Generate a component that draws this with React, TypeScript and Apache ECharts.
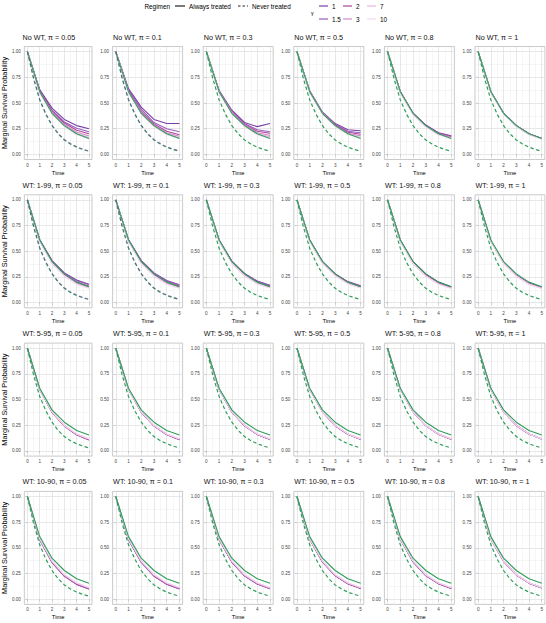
import React, { useEffect, useRef } from 'react';
import * as echarts from 'echarts';

const FONT = "'Liberation Sans', Arial, Helvetica, sans-serif";

const times = [0, 1, 2, 3, 4, 5];
const neverTimes = [0, 0.5, 1, 1.5, 2, 2.5, 3, 3.5, 4, 4.5, 5];
const trueAlways = [1, 0.61, 0.4, 0.28, 0.2, 0.155];
const trueNever = [1, 0.74, 0.53, 0.39, 0.28, 0.2, 0.14, 0.1, 0.07, 0.048, 0.03];
// estimated "Never treated" curve where it departs from the truth (No WT / WT 1-99, small pi)
const estNeverLowPi = [1, 0.745, 0.535, 0.395, 0.285, 0.205, 0.145, 0.105, 0.075, 0.052, 0.034];

const gammaLabels = ['1', '1.5', '2', '3', '7', '10'];
const gammaColors = ['#7A3FA6', '#9A5EC0', '#A8459B', '#D58AC8', '#E6B4DE', '#F2D9EE'];
const scenarioLabels = ['No WT', 'WT: 1-99', 'WT: 5-95', 'WT: 10-90'];
const piLabels = ['0.05', '0.1', '0.3', '0.5', '0.8', '1'];

const xTicks = [0, 1, 2, 3, 4, 5];
const xMinor = [0.5, 1.5, 2.5, 3.5, 4.5];
const yTicks = [0, 0.25, 0.5, 0.75, 1];
const yMinor = [0.125, 0.375, 0.625, 0.875];

// Estimated "Always treated" survival; per panel (pi), one row per gamma (1,1.5,2,3,7,10)
const estNoWT = [
  [[1, 0.63, 0.45, 0.34, 0.28, 0.25], [1, 0.62, 0.43, 0.315, 0.255, 0.22], [1, 0.62, 0.425, 0.305, 0.235, 0.2], [1, 0.61, 0.41, 0.29, 0.215, 0.18], [1, 0.6, 0.4, 0.28, 0.2, 0.165], [1, 0.6, 0.395, 0.27, 0.19, 0.155]],
  [[1, 0.64, 0.46, 0.34, 0.3, 0.3], [1, 0.63, 0.44, 0.31, 0.25, 0.22], [1, 0.62, 0.42, 0.295, 0.225, 0.19], [1, 0.61, 0.41, 0.285, 0.21, 0.175], [1, 0.605, 0.4, 0.275, 0.2, 0.16], [1, 0.6, 0.395, 0.27, 0.19, 0.155]],
  [[1, 0.62, 0.43, 0.31, 0.27, 0.3], [1, 0.62, 0.42, 0.3, 0.24, 0.22], [1, 0.615, 0.415, 0.29, 0.225, 0.205], [1, 0.61, 0.41, 0.285, 0.21, 0.185], [1, 0.605, 0.4, 0.275, 0.2, 0.17], [1, 0.6, 0.395, 0.27, 0.19, 0.16]],
  [[1, 0.62, 0.41, 0.3, 0.24, 0.23], [1, 0.615, 0.41, 0.29, 0.225, 0.21], [1, 0.61, 0.405, 0.285, 0.215, 0.195], [1, 0.61, 0.4, 0.28, 0.205, 0.18], [1, 0.605, 0.4, 0.275, 0.2, 0.165], [1, 0.6, 0.395, 0.27, 0.195, 0.16]],
  [[1, 0.61, 0.4, 0.285, 0.21, 0.18], [1, 0.61, 0.4, 0.283, 0.207, 0.177], [1, 0.61, 0.4, 0.28, 0.203, 0.172], [1, 0.605, 0.395, 0.275, 0.198, 0.166], [1, 0.6, 0.39, 0.27, 0.192, 0.16], [1, 0.6, 0.39, 0.265, 0.19, 0.155]],
  [[1, 0.61, 0.4, 0.28, 0.2, 0.155], [1, 0.61, 0.4, 0.28, 0.2, 0.155], [1, 0.61, 0.4, 0.279, 0.199, 0.154], [1, 0.608, 0.398, 0.277, 0.197, 0.153], [1, 0.605, 0.395, 0.272, 0.193, 0.15], [1, 0.603, 0.393, 0.27, 0.19, 0.148]],
];

const estWT1 = [
  [[1, 0.615, 0.41, 0.29, 0.22, 0.18], [1, 0.61, 0.405, 0.285, 0.213, 0.174], [1, 0.605, 0.4, 0.275, 0.2, 0.16], [1, 0.6, 0.39, 0.265, 0.19, 0.15], [1, 0.6, 0.385, 0.26, 0.183, 0.143], [1, 0.6, 0.385, 0.26, 0.18, 0.14]],
  [[1, 0.615, 0.41, 0.29, 0.215, 0.175], [1, 0.61, 0.405, 0.285, 0.21, 0.17], [1, 0.605, 0.4, 0.275, 0.2, 0.16], [1, 0.6, 0.39, 0.265, 0.19, 0.15], [1, 0.6, 0.385, 0.26, 0.183, 0.143], [1, 0.6, 0.385, 0.26, 0.18, 0.14]],
  [[1, 0.61, 0.405, 0.285, 0.21, 0.17], [1, 0.61, 0.4, 0.28, 0.205, 0.165], [1, 0.605, 0.4, 0.275, 0.2, 0.16], [1, 0.6, 0.39, 0.27, 0.19, 0.15], [1, 0.6, 0.385, 0.262, 0.185, 0.145], [1, 0.6, 0.385, 0.26, 0.182, 0.142]],
  [[1, 0.61, 0.4, 0.28, 0.205, 0.165], [1, 0.61, 0.4, 0.278, 0.202, 0.162], [1, 0.605, 0.398, 0.275, 0.198, 0.158], [1, 0.6, 0.39, 0.268, 0.19, 0.15], [1, 0.6, 0.386, 0.263, 0.185, 0.145], [1, 0.6, 0.385, 0.26, 0.183, 0.143]],
  [[1, 0.61, 0.4, 0.28, 0.2, 0.155], [1, 0.605, 0.395, 0.275, 0.197, 0.152], [1, 0.6, 0.39, 0.27, 0.192, 0.148], [1, 0.6, 0.385, 0.263, 0.185, 0.143], [1, 0.598, 0.383, 0.26, 0.182, 0.14], [1, 0.598, 0.382, 0.258, 0.18, 0.138]],
  [[1, 0.6, 0.39, 0.27, 0.19, 0.15], [1, 0.6, 0.39, 0.268, 0.188, 0.148], [1, 0.6, 0.387, 0.265, 0.185, 0.145], [1, 0.598, 0.385, 0.262, 0.182, 0.142], [1, 0.598, 0.383, 0.26, 0.18, 0.14], [1, 0.598, 0.382, 0.258, 0.178, 0.138]],
];

const estWT5 = [
  [[1, 0.6, 0.378, 0.243, 0.158, 0.108], [1, 0.6, 0.378, 0.243, 0.158, 0.109], [1, 0.6, 0.379, 0.244, 0.16, 0.111], [1, 0.6, 0.381, 0.246, 0.162, 0.114], [1, 0.6, 0.383, 0.248, 0.165, 0.117], [1, 0.6, 0.383, 0.249, 0.166, 0.119]],
  [[1, 0.6, 0.379, 0.244, 0.16, 0.11], [1, 0.6, 0.379, 0.244, 0.16, 0.111], [1, 0.6, 0.38, 0.245, 0.161, 0.112], [1, 0.6, 0.381, 0.247, 0.163, 0.115], [1, 0.6, 0.383, 0.248, 0.165, 0.117], [1, 0.6, 0.384, 0.249, 0.166, 0.119]],
  [[1, 0.6, 0.38, 0.245, 0.161, 0.112], [1, 0.6, 0.38, 0.245, 0.161, 0.112], [1, 0.6, 0.381, 0.246, 0.162, 0.113], [1, 0.6, 0.382, 0.247, 0.163, 0.115], [1, 0.6, 0.383, 0.248, 0.165, 0.117], [1, 0.6, 0.384, 0.249, 0.166, 0.119]],
  [[1, 0.6, 0.381, 0.246, 0.162, 0.113], [1, 0.6, 0.381, 0.246, 0.162, 0.113], [1, 0.6, 0.382, 0.247, 0.163, 0.114], [1, 0.6, 0.382, 0.247, 0.164, 0.116], [1, 0.6, 0.383, 0.248, 0.165, 0.117], [1, 0.6, 0.384, 0.249, 0.166, 0.118]],
  [[1, 0.6, 0.382, 0.247, 0.163, 0.114], [1, 0.6, 0.382, 0.247, 0.163, 0.114], [1, 0.6, 0.382, 0.247, 0.164, 0.115], [1, 0.6, 0.383, 0.248, 0.164, 0.116], [1, 0.6, 0.383, 0.248, 0.165, 0.117], [1, 0.6, 0.384, 0.249, 0.166, 0.118]],
  [[1, 0.6, 0.383, 0.248, 0.165, 0.116], [1, 0.6, 0.383, 0.248, 0.165, 0.116], [1, 0.6, 0.383, 0.248, 0.165, 0.116], [1, 0.6, 0.383, 0.248, 0.165, 0.117], [1, 0.6, 0.384, 0.249, 0.166, 0.117], [1, 0.6, 0.384, 0.249, 0.166, 0.118]],
];

const estWT10 = [
  [[1, 0.58, 0.36, 0.225, 0.145, 0.1], [1, 0.58, 0.36, 0.226, 0.146, 0.101], [1, 0.583, 0.362, 0.228, 0.148, 0.103], [1, 0.587, 0.367, 0.233, 0.153, 0.107], [1, 0.59, 0.372, 0.238, 0.158, 0.112], [1, 0.59, 0.374, 0.24, 0.16, 0.114]],
  [[1, 0.58, 0.361, 0.226, 0.146, 0.101], [1, 0.581, 0.361, 0.227, 0.147, 0.102], [1, 0.584, 0.363, 0.229, 0.149, 0.104], [1, 0.587, 0.367, 0.233, 0.153, 0.108], [1, 0.59, 0.372, 0.238, 0.158, 0.112], [1, 0.59, 0.374, 0.24, 0.16, 0.114]],
  [[1, 0.582, 0.362, 0.228, 0.148, 0.103], [1, 0.583, 0.363, 0.229, 0.149, 0.104], [1, 0.585, 0.365, 0.231, 0.151, 0.105], [1, 0.588, 0.368, 0.234, 0.154, 0.108], [1, 0.59, 0.372, 0.238, 0.158, 0.112], [1, 0.59, 0.374, 0.24, 0.16, 0.114]],
  [[1, 0.584, 0.364, 0.23, 0.15, 0.105], [1, 0.585, 0.365, 0.231, 0.151, 0.106], [1, 0.586, 0.366, 0.232, 0.152, 0.107], [1, 0.588, 0.369, 0.235, 0.155, 0.109], [1, 0.59, 0.372, 0.238, 0.158, 0.112], [1, 0.59, 0.374, 0.24, 0.16, 0.114]],
  [[1, 0.585, 0.365, 0.231, 0.151, 0.105], [1, 0.586, 0.366, 0.232, 0.152, 0.106], [1, 0.587, 0.367, 0.233, 0.153, 0.107], [1, 0.589, 0.37, 0.236, 0.156, 0.11], [1, 0.59, 0.373, 0.239, 0.159, 0.113], [1, 0.59, 0.374, 0.24, 0.16, 0.114]],
  [[1, 0.588, 0.37, 0.237, 0.157, 0.111], [1, 0.588, 0.37, 0.237, 0.157, 0.111], [1, 0.589, 0.371, 0.238, 0.158, 0.112], [1, 0.59, 0.372, 0.239, 0.159, 0.113], [1, 0.59, 0.373, 0.24, 0.16, 0.114], [1, 0.59, 0.374, 0.241, 0.161, 0.115]],
];

const estimates = [estNoWT, estWT1, estWT5, estWT10];

const GREEN = '#2E9E5A';
const LEFT0 = 22;
const COL_PITCH = 90.6;
const PANEL_W = 70;
const TOP0 = 46.5;
const ROW_PITCH = 148.3;
const PANEL_H = 113;

function buildOption() {
  const grid: any[] = [];
  const xAxis: any[] = [];
  const yAxis: any[] = [];
  const series: any[] = [];
  const title: any[] = [];

  for (let r = 0; r < 4; r++) {
    for (let c = 0; c < 6; c++) {
      const p = r * 6 + c;
      const left = LEFT0 + c * COL_PITCH;
      const top = TOP0 + r * ROW_PITCH;
      grid.push({
        left, top, width: PANEL_W, height: PANEL_H,
        show: true, borderColor: '#b3b3b3', borderWidth: 0.7,
        containLabel: false,
      });
      title.push({
        text: `${scenarioLabels[r]}, π = ${piLabels[c]}`,
        left: left + 0.5, top: top - 13.5, padding: 0,
        textStyle: { fontSize: 7.2, fontWeight: 'normal', color: '#111', fontFamily: FONT, lineHeight: 8 },
      });
      xAxis.push({
        type: 'value', gridIndex: p, position: 'bottom', min: -0.25, max: 5.25,
        axisLine: { show: false },
        axisTick: { show: true, length: 2, customValues: xTicks, lineStyle: { color: '#b3b3b3', width: 0.6 } },
        axisLabel: { customValues: xTicks, fontSize: 4.6, color: '#444', margin: 3, fontFamily: FONT },
        splitLine: { show: true, lineStyle: { color: '#dcdcdc', width: 0.7 } },
        name: 'Time', nameLocation: 'middle', nameGap: 10,
        nameTextStyle: { fontSize: 5.8, color: '#000', fontFamily: FONT },
      });
      xAxis.push({
        type: 'value', gridIndex: p, position: 'top', min: -0.25, max: 5.25,
        axisLine: { show: false },
        axisTick: { show: false, customValues: xMinor },
        axisLabel: { show: false },
        splitLine: { show: true, lineStyle: { color: '#ececec', width: 0.5 } },
      });
      yAxis.push({
        type: 'value', gridIndex: p, position: 'left', min: -0.05, max: 1.05,
        axisLine: { show: false },
        axisTick: { show: true, length: 2, customValues: yTicks, lineStyle: { color: '#b3b3b3', width: 0.6 } },
        axisLabel: {
          customValues: yTicks, fontSize: 4.6, color: '#444', margin: 3.5, fontFamily: FONT,
          formatter: (v: number) => v.toFixed(2),
        },
        splitLine: { show: true, lineStyle: { color: '#dcdcdc', width: 0.7 } },
        name: c === 0 ? 'Marginal Survival Probability' : '',
        nameLocation: 'middle', nameGap: 12,
        nameTextStyle: { fontSize: 7.3, color: '#000', fontFamily: FONT },
      });
      yAxis.push({
        type: 'value', gridIndex: p, position: 'right', min: -0.05, max: 1.05,
        axisLine: { show: false },
        axisTick: { show: false, customValues: yMinor },
        axisLabel: { show: false },
        splitLine: { show: true, lineStyle: { color: '#ececec', width: 0.5 } },
      });

      const est = estimates[r][c];
      est.forEach((vals, g) => {
        series.push({
          type: 'line', xAxisIndex: 2 * p, yAxisIndex: 2 * p,
          name: `γ=${gammaLabels[g]}`,
          data: times.map((t, i) => [t, vals[i]]),
          showSymbol: false, symbol: 'none', silent: true, z: 2,
          lineStyle: { color: gammaColors[g], width: 1.1 },
        });
      });
      series.push({
        type: 'line', xAxisIndex: 2 * p, yAxisIndex: 2 * p, name: 'Always treated (true)',
        data: times.map((t, i) => [t, trueAlways[i]]),
        showSymbol: false, symbol: 'none', silent: true, z: 3,
        lineStyle: { color: GREEN, width: 1.1 },
      });
      series.push({
        type: 'line', xAxisIndex: 2 * p, yAxisIndex: 2 * p, name: 'Never treated (true)',
        data: neverTimes.map((t, i) => [t, trueNever[i]]),
        showSymbol: false, symbol: 'none', silent: true, z: 3,
        lineStyle: { color: GREEN, width: 1.2, type: [3.5, 2.5] },
      });
      if (r < 2 && c < 2) {
        series.push({
          type: 'line', xAxisIndex: 2 * p, yAxisIndex: 2 * p, name: 'Never treated (γ=1)',
          data: neverTimes.map((t, i) => [t, estNeverLowPi[i]]),
          showSymbol: false, symbol: 'none', silent: true, z: 4,
          lineStyle: { color: gammaColors[0], width: 1.1, type: [3.5, 2.5], opacity: 0.55 },
        });
      }
    }
  }

  const legendText = (text: string, x: number, y: number, size = 6.4, align = 'left') => ({
    type: 'text', x, y,
    style: { text, fill: '#000', font: `${size}px ${FONT}`, align, verticalAlign: 'middle' },
  });
  const legendLine = (x1: number, x2: number, y: number, color: string, dashed = false) => ({
    type: 'line', shape: { x1, y1: y, x2, y2: y },
    style: { stroke: color, lineWidth: 1.2, lineDash: dashed ? [2.5, 2] : null },
  });

  const graphic: any[] = [
    legendText('Regimen', 170, 6, 6.4, 'right'),
    legendLine(175, 185, 6, '#222'),
    legendText('Always treated', 189, 6),
    legendLine(238, 248, 6, '#222', true),
    legendText('Never treated', 252, 6),
    legendText('γ', 311, 13, 5.2),
  ];
  const gx = [319, 343, 367];
  gammaLabels.forEach((lab, g) => {
    const col = Math.floor(g / 2);
    const row = g % 2;
    const y = row === 0 ? 6 : 19;
    graphic.push(legendLine(gx[col], gx[col] + 9, y, gammaColors[g]));
    graphic.push(legendText(lab, gx[col] + 13, y));
  });

  return {
    animation: false,
    backgroundColor: '#ffffff',
    textStyle: { fontFamily: FONT },
    title, grid, xAxis, yAxis, series, graphic,
  };
}

export default function App() {
  const ref = useRef<HTMLDivElement>(null);
  useEffect(() => {
    const chart = echarts.init(ref.current!, null, { renderer: 'svg' });
    chart.setOption(buildOption() as any);
    return () => chart.dispose();
  }, []);
  return (
    <div
      ref={ref}
      style={{ position: 'absolute', left: 0, top: 0, width: 546, height: 623, background: '#fff' }}
    />
  );
}
